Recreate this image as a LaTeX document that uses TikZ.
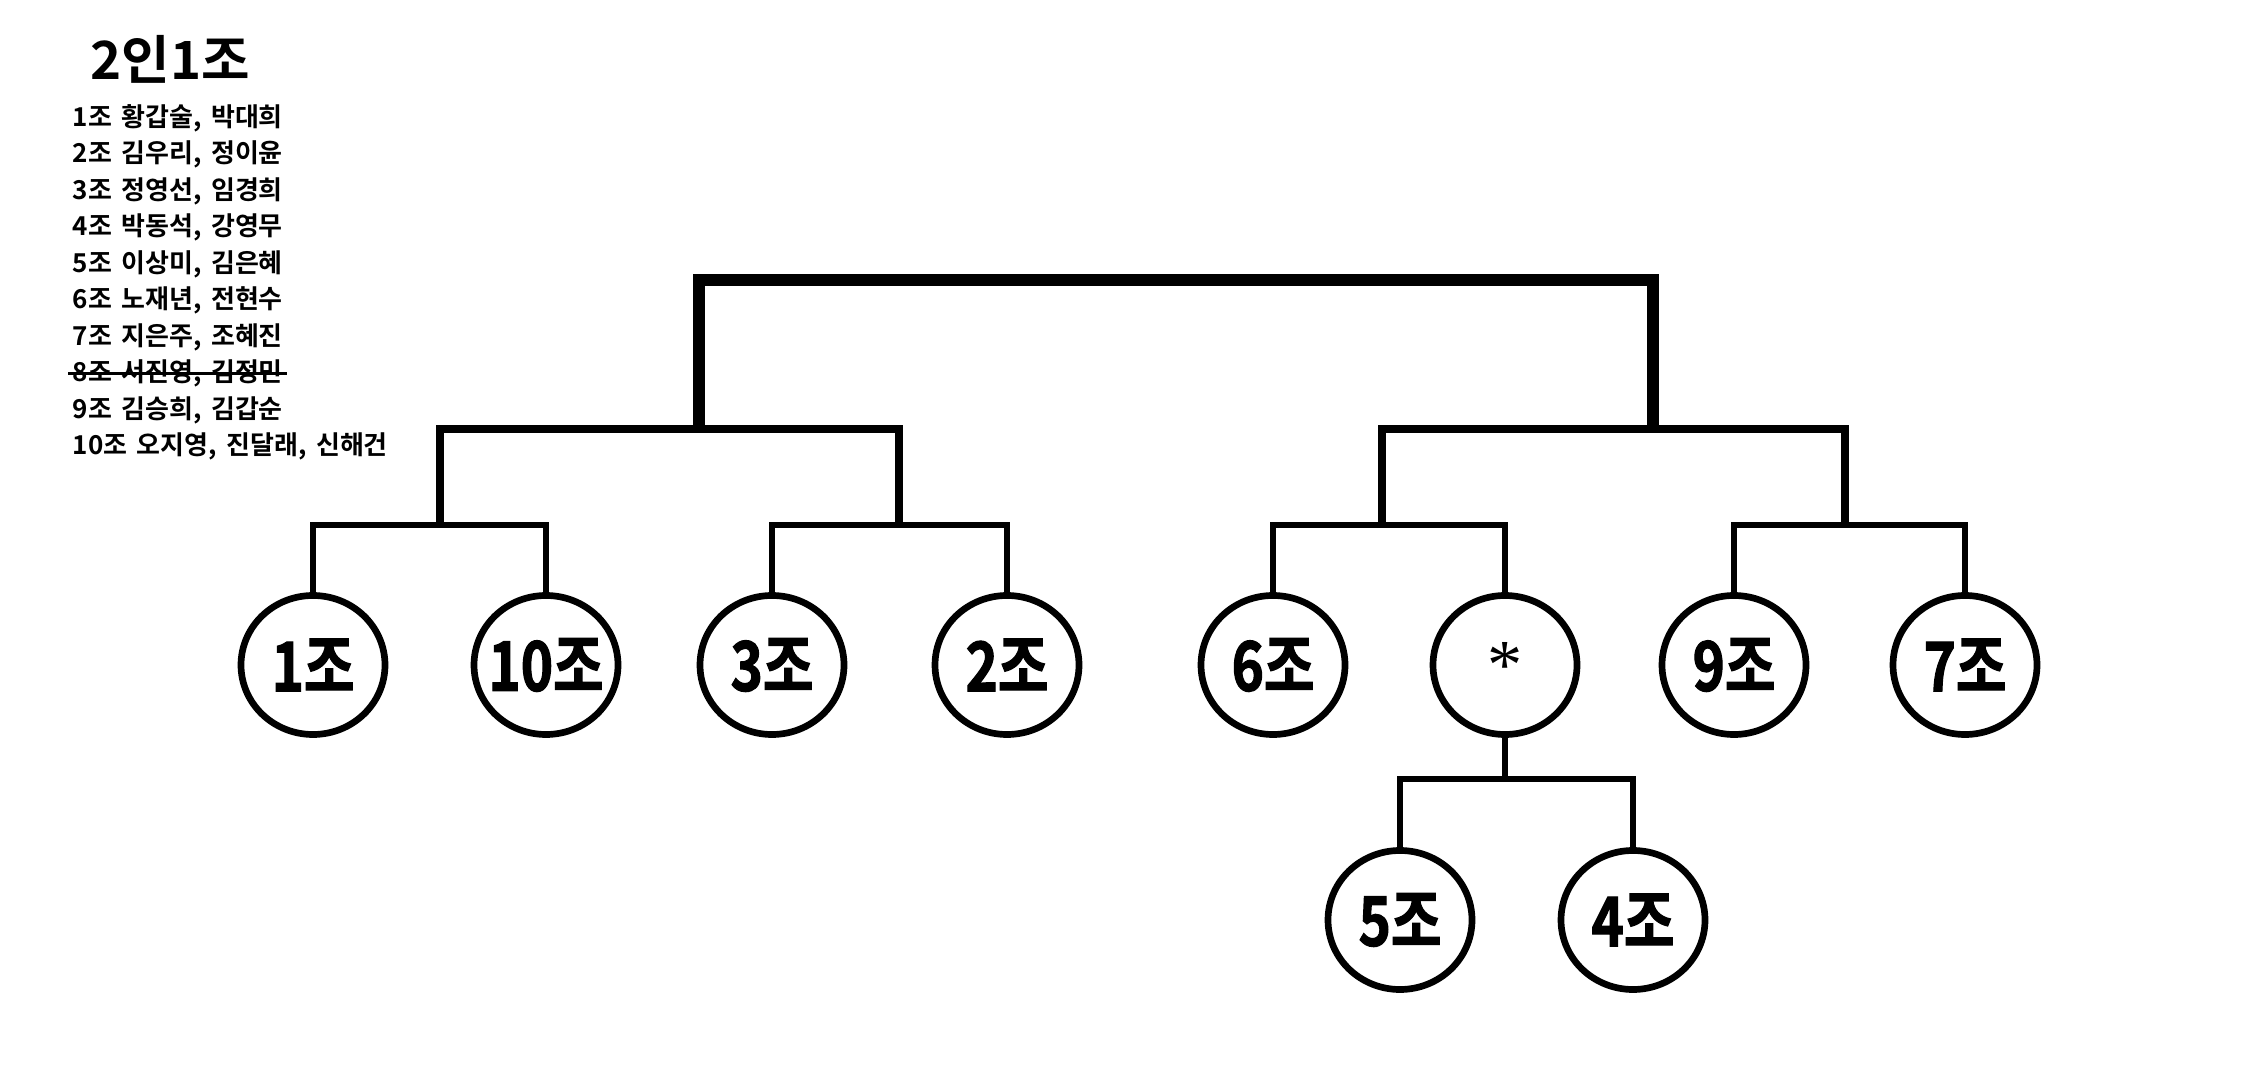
\documentclass[tikz,border=0pt]{standalone}
\usepackage{fontspec}
\newfontfamily\krtitle{Noto Sans CJK KR Bold}
\newfontfamily\krlist{Noto Sans CJK KR Bold}[WordSpace=1.6]
\newfontfamily\krlabel{Noto Sans CJK KR Bold}[FakeBold=1.6,FakeStretch=0.8]
\newfontfamily\serifst{Liberation Serif}
\usetikzlibrary{shapes.geometric}

\begin{document}
\begin{tikzpicture}
  [every node/.style={inner sep=0pt},
   grupo/.style={ellipse,draw=black,line width=1.9pt,inner xsep=-6pt,minimum width=1.44cm,minimum height=1.39cm,font=\krlabel\fontsize{19.5}{20}\selectfont},
   lista/.style={anchor=west,font=\krlist\fontsize{7.4}{8}\selectfont},
   rama/.style={line width=1.9pt},
   semi/.style={line width=2.2pt},
   final/.style={line width=3.5pt}]
  \useasboundingbox (0,0) rectangle (22.63,-10.80);

  % titulo y lista de parejas
  \node[font=\krtitle\fontsize{15}{16}\selectfont] (titulo) at (1.70,-0.59) {2인1조};
  \foreach \i/\t in {1/{1조 황갑술, 박대희}, 2/{2조 김우리, 정이윤}, 3/{3조 정영선, 임경희},
                     4/{4조 박동석, 강영무}, 5/{5조 이상미, 김은혜}, 6/{6조 노재년, 전현수},
                     7/{7조 지은주, 조혜진}, 8/{8조 서진영, 김정민}, 9/{9조 김승희, 김갑순},
                     10/{10조 오지영, 진달래, 신해건}}
    \node[lista] (l\i) at (0.72,{-1.18-(\i-1)*0.365}) {\t};
  % 8조 tachado
  \draw[line width=0.9pt] ([xshift=-1pt]l8.west) -- ([xshift=1pt]l8.east);

  \node[grupo] (g1) at (3.13,-6.65) {1조};
  \node[grupo] (g10) at (5.46,-6.65) {10조};
  \node[grupo] (g3) at (7.72,-6.65) {3조};
  \node[grupo] (g2) at (10.07,-6.65) {2조};
  \node[grupo] (g6) at (12.73,-6.65) {6조};
  \node[grupo,font=\serifst\fontsize{20}{20}\selectfont] (gs) at (15.05,-6.65) {*};
  \node[grupo] (g9) at (17.34,-6.65) {9조};
  \node[grupo] (g7) at (19.65,-6.65) {7조};
  \node[grupo] (g5) at (14.00,-9.20) {5조};
  \node[grupo] (g4) at (16.33,-9.20) {4조};

  \coordinate (p1) at (4.40,-5.25);
  \coordinate (p2) at (8.99,-5.25);
  \coordinate (p3) at (13.82,-5.25);
  \coordinate (p4) at (18.45,-5.25);
  \coordinate (p5) at (15.05,-7.79);
  \coordinate (q1) at (6.99,-4.29);
  \coordinate (q2) at (16.53,-4.29);
  \coordinate (r) at (11.76,-2.80);

  \foreach \a/\j/\b in {g1/p1/g10, g3/p2/g2, g6/p3/gs, g9/p4/g7, g5/p5/g4}
    \draw[rama] (\a.north) |- (\j) -| (\b.north);
  \draw[rama] (gs) -- (p5);

  \foreach \a/\j/\b in {p1/q1/p2, p3/q2/p4}
    \draw[semi] (\a) |- (\j) -| (\b);

  % final
  \draw[final] (q1) |- (r) -| (q2);
\end{tikzpicture}
\end{document}
